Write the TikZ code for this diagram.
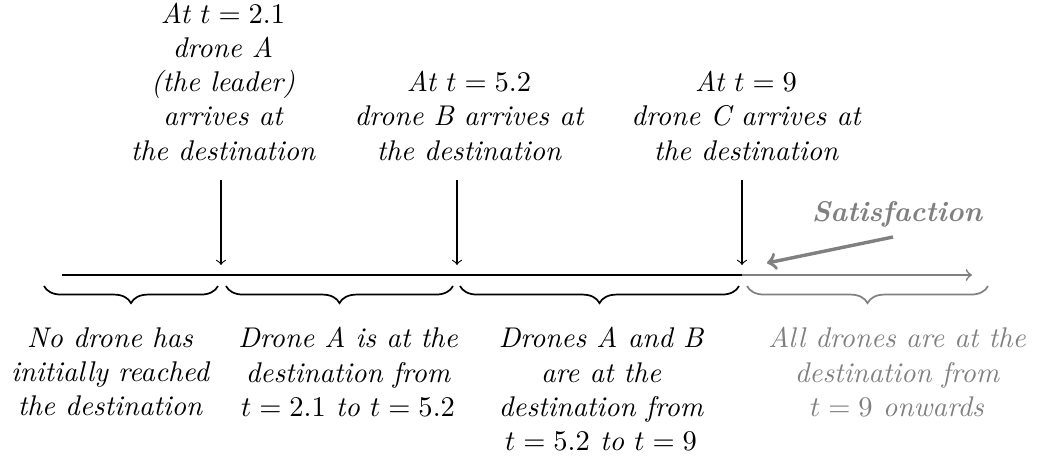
\documentclass[tikz,border=0pt]{standalone}
\usetikzlibrary{decorations.pathreplacing}
\begin{document}
\begin{tikzpicture}[x=0.3509pt,y=-0.3509pt,
  lbl/.style={align=center,font=\itshape,inner sep=0pt},
  glbl/.style={lbl,text=gray},
  down/.style={->},
  tline/.style={semithick},
  brc/.style={semithick,decorate,decoration={brace,mirror,amplitude=6pt}}]
\useasboundingbox (0,0) rectangle (1038,455);
% top labels
\node[lbl,anchor=south] (t1) at (223,161) {At $t=2.1$\\drone A\\(the leader)\\arrives at\\the destination};
\node[lbl,anchor=south] (t2) at (469,161) {At $t=5.2$\\drone B arrives at\\the destination};
\node[lbl,anchor=south] (t3) at (746,161) {At $t=9$\\drone C arrives at\\the destination};
% arrows
\coordinate (a1s) at (221,180); \coordinate (a1e) at (221,265);
\coordinate (a2s) at (457,180); \coordinate (a2e) at (457,265);
\coordinate (a3s) at (742,180); \coordinate (a3e) at (742,265);
\draw[down] (a1s) -- (a1e);
\draw[down] (a2s) -- (a2e);
\draw[down] (a3s) -- (a3e);
% timeline
\coordinate (l0) at (62,275); \coordinate (l1) at (742,275); \coordinate (l2) at (972,275);
\draw[tline] (l0) -- (l1);
\draw[tline,gray,->] (l1) -- (l2);
% braces
\coordinate (b0) at (44,286); \coordinate (b1) at (218,286);
\coordinate (b2) at (226,286); \coordinate (b3) at (453,286);
\coordinate (b4) at (460,286); \coordinate (b5) at (739,286);
\coordinate (b6) at (747,286); \coordinate (b7) at (988,286);
\draw[brc] (b0) -- (b1);
\draw[brc] (b2) -- (b3);
\draw[brc] (b4) -- (b5);
\draw[brc,gray] (b6) -- (b7);
% bottom labels
\node[lbl,anchor=north] (d1) at (110,327) {No drone has\\initially reached\\the destination};
\node[lbl,anchor=north] (d2) at (348,327) {Drone A is at the\\destination from\\$t=2.1$ to $t=5.2$};
\node[lbl,anchor=north] (d3) at (601,327) {Drones A and B\\are at the\\destination from\\$t=5.2$ to $t=9$};
\node[glbl,anchor=north] (d4) at (897,327) {All drones are at the\\destination from\\$t=9$ onwards};
% satisfaction
\node[inner sep=0pt,anchor=base,text=gray,font=\bfseries\itshape] (sat) at (897,221) {Satisfaction};
\coordinate (satS) at (893,237); \coordinate (satE) at (767,263);
\draw[very thick,gray,->] (satS) -- (satE);
\end{tikzpicture}
\end{document}
